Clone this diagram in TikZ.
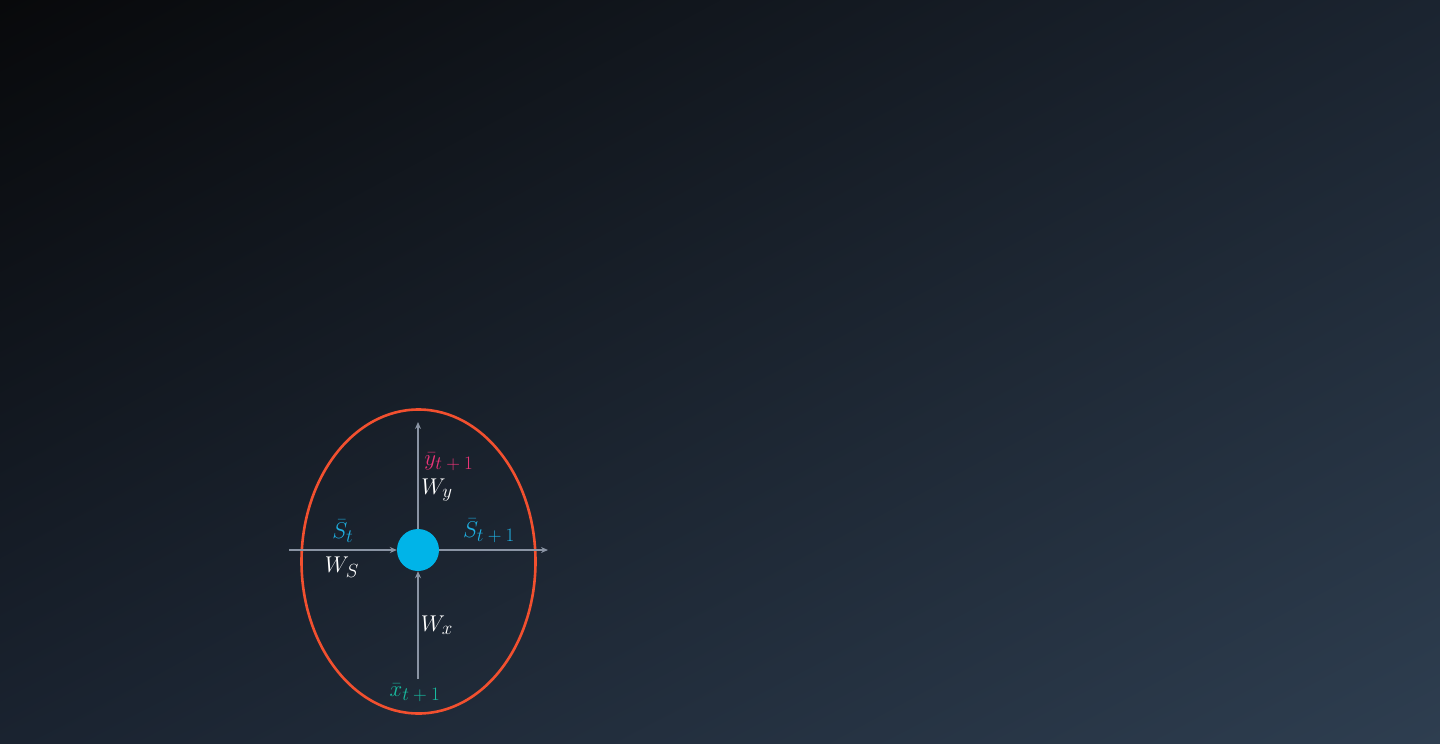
\documentclass[tikz,border=0pt]{standalone}
\usepackage{graphicx}
\usetikzlibrary{arrows.meta,shadings}
\definecolor{bgTL}{HTML}{08090B}
\definecolor{bgTR}{HTML}{1B2430}
\definecolor{bgBL}{HTML}{1A2330}
\definecolor{bgBR}{HTML}{2E3E50}
\definecolor{ringred}{HTML}{F2502F}
\definecolor{nodecyan}{HTML}{00B4E8}
\definecolor{scyan}{HTML}{1FB0E2}
\definecolor{xteal}{HTML}{18BCA0}
\definecolor{ypink}{HTML}{EA3478}
\definecolor{arrowgray}{HTML}{8A94A4}
\newcommand{\lbltxt}[1]{\scalebox{1.1}{$#1$}}
\newcommand{\bigsub}[1]{\mbox{\LARGE$#1$}}
\tikzset{
  conn/.style={draw=arrowgray, line width=1.6pt, -{Stealth[length=7pt,width=6pt]}},
  lbl/.style={inner sep=0pt, font=\huge},
}
\begin{document}
\begin{tikzpicture}[x=1pt,y=-1pt]
\useasboundingbox (0,0) rectangle (1440,744);
\shade[upper left=bgTL, upper right=bgTR, lower left=bgBL, lower right=bgBR] (0,0) rectangle (1440,744);
% ring
\draw[ringred, line width=2.6pt] (418.5,561.5) ellipse [x radius=117, y radius=152];
% central node
\node[circle, fill=nodecyan, minimum size=42pt, inner sep=0pt] (c) at (418,550) {};
% free ends
\coordinate (lin) at (289,550);
\coordinate (rout) at (548,550);
\coordinate (uout) at (418,422);
\coordinate (din) at (418,679);
\draw[conn] (lin) -- (c.west);
\draw[conn] (c.east) -- (rout);
\draw[conn] (c.north) -- (uout);
\draw[conn] (din) -- (c.south);
% labels
\node[lbl, text=scyan] (st) at (343,531) {\lbltxt{\bar{S}_{\bigsub{t}}}};
\node[lbl, text=white] (ws) at (342,567) {\lbltxt{W_{\bigsub{S}}}};
\node[lbl, text=scyan] (st1) at (489,531) {\lbltxt{\bar{S}_{\bigsub{t+1}}}};
\node[lbl, text=ypink] (yt1) at (449,462) {\lbltxt{\bar{y}_{\bigsub{t+1}}}};
\node[lbl, text=white] (wy) at (437,490) {\lbltxt{W_{\bigsub{y}}}};
\node[lbl, text=white] (wx) at (437,625) {\lbltxt{W_{\bigsub{x}}}};
\node[lbl, text=xteal] (xt1) at (415,693) {\lbltxt{\bar{x}_{\bigsub{t+1}}}};
\end{tikzpicture}
\end{document}
